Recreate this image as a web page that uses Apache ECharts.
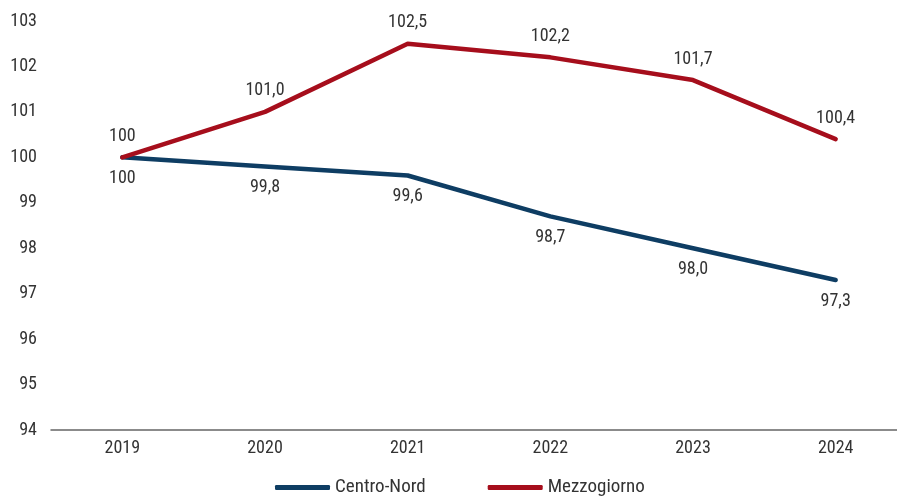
<!DOCTYPE html>
<html>
<head>
<meta charset="utf-8">
<script src="https://cdn.jsdelivr.net/npm/echarts@6/dist/echarts.min.js"></script>
<style>
  html, body { margin: 0; padding: 0; background: #fff; overflow: hidden; }
  #chart { width: 907px; height: 497px; }
</style>
</head>
<body>
<div id="chart"></div>
<script>
const years = ['2019', '2020', '2021', '2022', '2023', '2024'];
const centroNord = [100, 99.8, 99.6, 98.7, 98.0, 97.3];
const mezzogiorno = [100, 101.0, 102.5, 102.2, 101.7, 100.4];
const yTicks = [94, 95, 96, 97, 98, 99, 100, 101, 102, 103];

const FONT = '"Roboto Condensed", "Liberation Sans Narrow", "Roboto", sans-serif';
const BLUE = '#0e3d63';
const RED = '#a60e1c';
const TEXT = '#333';

// Index numbers: base year shown as integer, others with one decimal and a comma
function fmt(p) {
  return p.dataIndex === 0 ? String(p.value) : p.value.toFixed(1).replace('.', ',');
}

const chart = echarts.init(document.getElementById('chart'));
chart.setOption({
  animation: false,
  textStyle: { fontFamily: FONT },
  grid: { left: 51, right: 0, top: 21, bottom: 67 },
  legend: {
    top: 478,
    left: 275,
    padding: 0,
    itemWidth: 55,
    itemHeight: 5,
    itemGap: 62,
    icon: 'roundRect',
    textStyle: { fontFamily: FONT, fontSize: 19, color: TEXT },
    data: ['Centro-Nord', 'Mezzogiorno']
  },
  xAxis: {
    type: 'category',
    data: years,
    boundaryGap: true,
    axisLine: { lineStyle: { color: '#666', width: 1.5 } },
    axisTick: { show: false },
    axisLabel: { fontFamily: FONT, fontSize: 18, color: TEXT, margin: 9 }
  },
  yAxis: {
    type: 'value',
    min: yTicks[0],
    max: yTicks[yTicks.length - 1],
    interval: 1,
    splitLine: { show: false },
    axisLine: { show: false },
    axisTick: { show: false },
    axisLabel: { fontFamily: FONT, fontSize: 18, color: TEXT, margin: 14 }
  },
  series: [
    {
      name: 'Centro-Nord',
      type: 'line',
      data: centroNord,
      symbol: 'circle',
      symbolSize: 0,
      lineStyle: { color: BLUE, width: 4.5, cap: 'round', join: 'round' },
      itemStyle: { color: BLUE },
      label: {
        show: true, position: 'bottom', distance: 12,
        fontFamily: FONT, fontSize: 18, color: TEXT, formatter: fmt
      },
      z: 2
    },
    {
      name: 'Mezzogiorno',
      type: 'line',
      data: mezzogiorno,
      symbol: 'circle',
      symbolSize: 0,
      lineStyle: { color: RED, width: 4.5, cap: 'round', join: 'round' },
      itemStyle: { color: RED },
      label: {
        show: true, position: 'top', distance: 12,
        fontFamily: FONT, fontSize: 18, color: TEXT, formatter: fmt
      },
      z: 3
    }
  ]
});
</script>
</body>
</html>
